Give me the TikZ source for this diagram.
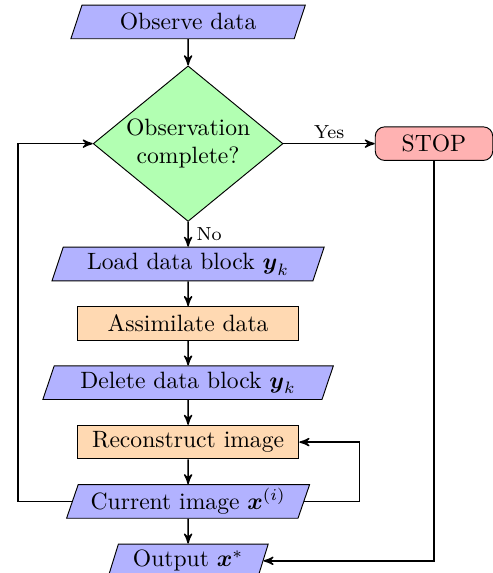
\documentclass[tikz,border=0pt]{standalone}
\usepackage{amsmath}
\usepackage{tikz}
\usetikzlibrary{arrows,calc,positioning,shapes}

\begin{document}
\begin{tikzpicture}[>=stealth']
	\tikzstyle{io} = [draw, trapezium, trapezium left angle=70, trapezium right angle=110, trapezium stretches=true, minimum height=0.5cm, inner ysep=1pt, fill=blue!30]
	\tikzstyle{process} = [draw, rectangle, minimum width=3.3cm, minimum height=0.5cm, inner ysep=1pt, fill=orange!30]
	\tikzstyle{decision} = [draw, diamond, aspect=1.22, inner sep=0.5pt, align=center, fill=green!30]
	\tikzstyle{stopbox} = [draw, rectangle, rounded corners, minimum width=1.75cm, minimum height=0.5cm, inner ysep=1pt, fill=red!30]
	\tikzstyle{line} = [draw, semithick]
	
	\useasboundingbox (-79.7pt,9.3pt) rectangle (128.8pt,-233.5pt);
	
	\node [io, minimum width=3.5cm] (obs) at (0,0) {Observe data};
	\node [decision, below = 0.39cm of obs] (check) {Observation\\complete?};
	\node [stopbox, right = 1.36cm of check] (stop) {STOP};
	\node [io, minimum width=4.08cm, below = 0.37cm of check] (load) {Load data block $\boldsymbol{y}_k$};
	\node [process, below = 0.37cm of load] (assim) {Assimilate data};
	\node [io, minimum width=4.33cm, below = 0.37cm of assim] (delete) {Delete data block $\boldsymbol{y}_k$};
	\node [process, below = 0.37cm of delete] (recon) {Reconstruct image};
	\node [io, minimum width=3.63cm, below = 0.37cm of recon] (cur) {Current image $\boldsymbol{x}^{(i)}$};
	\node [io, minimum width=2.4cm, below = 0.37cm of cur] (out) {Output $\boldsymbol{x}^*$};
	
	\node [coordinate, left = 0.8cm of cur.west] (c1) {};
	\node [coordinate, right = 0.82cm of cur.east] (c2) {};
	
	\draw [line, ->] (obs) -- (check);
	\draw [line, ->] (check) --node[above, inner sep=2pt]{\footnotesize Yes} (stop);
	\draw [line, ->] (check) --node[right]{\footnotesize No} (load);
	\draw [line, ->] (load) -- (assim);
	\draw [line, ->] (assim) -- (delete);
	\draw [line, ->] (delete) -- (recon);
	\draw [line, ->] (recon) -- (cur);
	\draw [line, ->] (cur) -- (out);
	\draw [line, ->] (cur.west) -- (c1) |- (check.west);
	\draw [line, ->] (cur.east) -- (c2) |- (recon.east);
	\draw [line, ->] (stop.south) |- (out.east);
\end{tikzpicture}
\end{document}
